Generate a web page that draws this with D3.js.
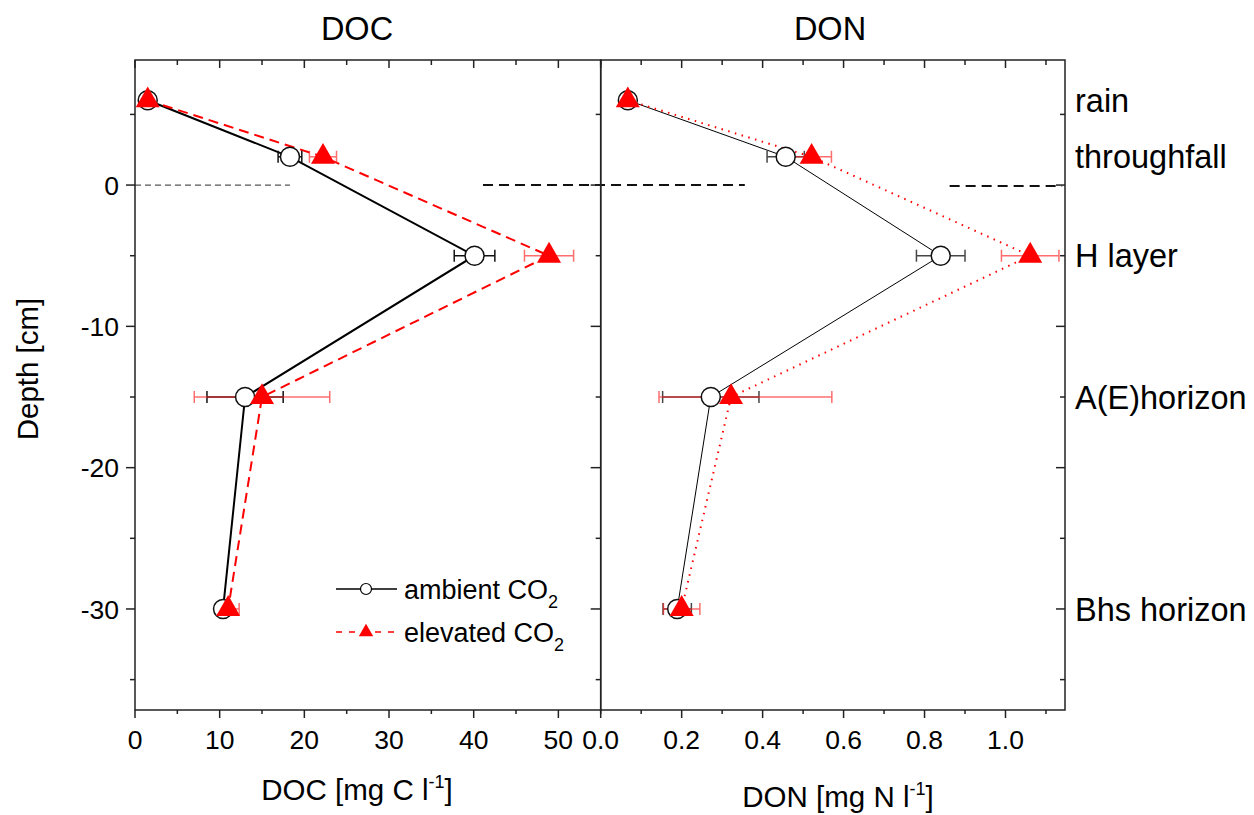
<!DOCTYPE html>
<html>
<head>
<meta charset="utf-8">
<script src="https://cdn.jsdelivr.net/npm/d3@7/dist/d3.min.js"></script>
<style>
  html, body { margin: 0; padding: 0; background: #fff; }
  svg { display: block; font-family: "Liberation Sans", Arial, Helvetica, sans-serif; }
</style>
</head>
<body>
<svg id="chart" width="1254" height="815"></svg>
<script>
// ---------------- DATA ----------------
const depths = [6, 2, -5, -15, -30];
const horizonLabels = ["rain", "throughfall", "H layer", "A(E)horizon", "Bhs horizon"];

const docAmbient = [1.5, 18.3, 40.1, 13.0, 10.4];
const docAmbientErr = [0.5, 1.4, 2.4, 4.5, 0.9];
const docElevated = [1.5, 22.2, 48.9, 15.0, 11.0];
const docElevatedErr = [0.5, 1.6, 2.9, 8.0, 1.3];

const donAmbient = [0.067, 0.457, 0.840, 0.272, 0.189];
const donAmbientErr = [0.01, 0.046, 0.06, 0.119, 0.035];
const donElevated = [0.067, 0.521, 1.061, 0.322, 0.200];
const donElevatedErrMinus = [0.01, 0.049, 0.071, 0.178, 0.045];
const donElevatedErrPlus = [0.01, 0.049, 0.071, 0.249, 0.045];

const docTicks = [0, 10, 20, 30, 40, 50];
const docMinorTicks = [5, 15, 25, 35, 45, 55];
const donTicks = [0.0, 0.2, 0.4, 0.6, 0.8, 1.0];
const donMinorTicks = [0.1, 0.3, 0.5, 0.7, 0.9, 1.1];
const depthTicks = [0, -10, -20, -30];
const depthMinorTicks = [5, -5, -15, -25, -35];

const docDomain = [0, 55];
const donDomain = [0, 1.147];
const depthDomain = [-37.15, 8.85];

// zero-depth boundary markers
const grayZeroLineDoc = [0, 18.3];            // DOC units
const blackZeroLineA = { fromDoc: 41.1, toDon: 0.356 };
const blackZeroLineB = { fromDon: 0.862, toDon: 1.14 };

const legendLabels = ["ambient CO", "elevated CO"];

// ---------------- LAYOUT ----------------
const svg = d3.select("#chart");
const plotTop = 60, plotBottom = 710;
const leftX0 = 135, midX = 600.7, rightX1 = 1065;

const y = d3.scaleLinear().domain(depthDomain).range([plotBottom, plotTop]);
const xDoc = d3.scaleLinear().domain(docDomain).range([leftX0, midX]);
const xDon = d3.scaleLinear().domain(donDomain).range([midX, rightX1]);

const axisColor = "#222";

// ---------------- ZERO LINES ----------------
svg.append("line")
  .attr("x1", xDoc(grayZeroLineDoc[0])).attr("x2", xDoc(grayZeroLineDoc[1]))
  .attr("y1", y(0)).attr("y2", y(0))
  .attr("stroke", "#555").attr("stroke-width", 1.2).attr("stroke-dasharray", "6,4");
svg.append("line")
  .attr("x1", xDoc(blackZeroLineA.fromDoc)).attr("x2", xDon(blackZeroLineA.toDon))
  .attr("y1", y(0)).attr("y2", y(0))
  .attr("stroke", "#111").attr("stroke-width", 2).attr("stroke-dasharray", "10,6");
svg.append("line")
  .attr("x1", xDon(blackZeroLineB.fromDon)).attr("x2", xDon(blackZeroLineB.toDon))
  .attr("y1", y(0) + 1).attr("y2", y(0) + 1)
  .attr("stroke", "#111").attr("stroke-width", 2).attr("stroke-dasharray", "10,6");

// ---------------- FRAMES & TICKS ----------------
function frame(x0, x1) {
  svg.append("rect").attr("x", x0).attr("y", plotTop).attr("width", x1 - x0).attr("height", plotBottom - plotTop)
    .attr("fill", "none").attr("stroke", axisColor).attr("stroke-width", 1.5);
}
frame(leftX0, midX);
frame(midX, rightX1);

function tickLine(x1, y1, x2, y2) {
  svg.append("line").attr("x1", x1).attr("y1", y1).attr("x2", x2).attr("y2", y2)
    .attr("stroke", axisColor).attr("stroke-width", 1.5);
}
// y ticks: left axis outward, middle line leftward, right border inward
depthTicks.forEach(d => {
  tickLine(leftX0 - 9, y(d), leftX0, y(d));
  tickLine(midX - 10, y(d), midX, y(d));
  tickLine(rightX1 - 9, y(d), rightX1, y(d));
});
depthMinorTicks.forEach(d => {
  tickLine(leftX0 - 5, y(d), leftX0, y(d));
  tickLine(midX - 5, y(d), midX, y(d));
  tickLine(rightX1 - 5, y(d), rightX1, y(d));
});
// x ticks: bottom outward, top inward
docTicks.forEach(v => { tickLine(xDoc(v), plotBottom, xDoc(v), plotBottom + 8); tickLine(xDoc(v), plotTop, xDoc(v), plotTop + 8); });
docMinorTicks.forEach(v => { tickLine(xDoc(v), plotBottom, xDoc(v), plotBottom + 4); tickLine(xDoc(v), plotTop, xDoc(v), plotTop + 5); });
donTicks.forEach(v => { tickLine(xDon(v), plotBottom, xDon(v), plotBottom + 8); tickLine(xDon(v), plotTop, xDon(v), plotTop + 8); });
donMinorTicks.forEach(v => { tickLine(xDon(v), plotBottom, xDon(v), plotBottom + 4); tickLine(xDon(v), plotTop, xDon(v), plotTop + 5); });

// tick labels
svg.selectAll(".ylab").data(depthTicks).enter().append("text")
  .attr("x", 119).attr("y", d => y(d)).attr("dy", "0.36em")
  .attr("text-anchor", "end").attr("font-size", 26.5).attr("fill", "#000")
  .text(d => String(d));
svg.selectAll(".xdoclab").data(docTicks).enter().append("text")
  .attr("x", d => xDoc(d)).attr("y", 749).attr("text-anchor", "middle")
  .attr("font-size", 26.5).attr("fill", "#000").text(d => d3.format("d")(d));
svg.selectAll(".xdonlab").data(donTicks).enter().append("text")
  .attr("x", d => xDon(d)).attr("y", 749).attr("text-anchor", "middle")
  .attr("font-size", 26.5).attr("fill", "#000").text(d => d3.format(".1f")(d));

// ---------------- TITLES ----------------
svg.append("text").attr("x", 357).attr("y", 40).attr("text-anchor", "middle").attr("font-size", 32.5).text("DOC");
svg.append("text").attr("x", 830).attr("y", 40).attr("text-anchor", "middle").attr("font-size", 32.5).text("DON");

svg.append("text").attr("transform", "translate(38,369) rotate(-90)").attr("text-anchor", "middle")
  .attr("font-size", 29.5).text("Depth [cm]");

function unitLabel(cx, by, main) {
  const t = svg.append("text").attr("x", cx).attr("y", by).attr("text-anchor", "middle").attr("font-size", 29.5);
  t.append("tspan").text(main);
  t.append("tspan").attr("dy", -12).attr("font-size", 18).text("-1");
  t.append("tspan").attr("dy", 12).text("]");
}
unitLabel(357, 800, "DOC [mg C l");
unitLabel(838, 807, "DON [mg N l");

// horizon labels
svg.selectAll(".hlab").data(depths).enter().append("text")
  .attr("x", 1075).attr("y", d => y(d)).attr("dy", "0.36em")
  .attr("font-size", 32.5).attr("fill", "#000")
  .text((d, i) => horizonLabels[i]);

// ---------------- SERIES ----------------
const tri = d3.symbol().type(d3.symbolTriangle).size(250);
const triSmall = d3.symbol().type(d3.symbolTriangle).size(90);

function drawSeries(xs, vals, errMinus, errPlus, style) {
  const pts = vals.map((v, i) => ({ x: v, d: depths[i], em: errMinus[i], ep: errPlus[i] }));
  const line = d3.line().x(p => xs(p.x)).y(p => y(p.d));
  svg.append("path").datum(pts).attr("d", line).attr("fill", "none")
    .attr("stroke", style.lineColor).attr("stroke-width", style.lineWidth)
    .attr("stroke-dasharray", style.dash || null).attr("stroke-linecap", style.cap || "butt");
  return pts;
}
function drawErrors(xs, pts, color, opacity) {
  const g = svg.append("g").attr("stroke", color).attr("stroke-width", 1.5).attr("opacity", opacity);
  pts.forEach(p => {
    const yy = y(p.d), a = xs(p.x - p.em), b = xs(p.x + p.ep);
    g.append("line").attr("x1", a).attr("x2", b).attr("y1", yy).attr("y2", yy);
    g.append("line").attr("x1", a).attr("x2", a).attr("y1", yy - 6).attr("y2", yy + 6);
    g.append("line").attr("x1", b).attr("x2", b).attr("y1", yy - 6).attr("y2", yy + 6);
  });
}
function drawCircles(xs, pts) {
  pts.forEach(p => {
    svg.append("circle").attr("cx", xs(p.x)).attr("cy", y(p.d)).attr("r", 9.5)
      .attr("fill", "#fff").attr("stroke", "#111").attr("stroke-width", 1.5);
  });
}
function drawTriangles(xs, pts) {
  pts.forEach(p => {
    svg.append("path").attr("d", tri).attr("transform", `translate(${xs(p.x)},${y(p.d)})`)
      .attr("fill", "#ff0000");
  });
}

// DOC panel
const docA = drawSeries(xDoc, docAmbient, docAmbientErr, docAmbientErr, { lineColor: "#000", lineWidth: 2 });
const docE = drawSeries(xDoc, docElevated, docElevatedErr, docElevatedErr, { lineColor: "#ff0000", lineWidth: 2, dash: "10,6" });
// DON panel
const donA = drawSeries(xDon, donAmbient, donAmbientErr, donAmbientErr, { lineColor: "#000", lineWidth: 1 });
const donE = drawSeries(xDon, donElevated, donElevatedErrMinus, donElevatedErrPlus, { lineColor: "#ff0000", lineWidth: 2, dash: "1.5,5.5" });

drawErrors(xDoc, docA, "#111", 1);
drawErrors(xDon, donA, "#333", 0.9);
drawErrors(xDoc, docE, "#ff2020", 0.65);
drawErrors(xDon, donE, "#ff2020", 0.65);

drawCircles(xDoc, docA);
drawCircles(xDon, donA);
drawTriangles(xDoc, docE);
drawTriangles(xDon, donE);

// ---------------- LEGEND ----------------
const lg = svg.append("g");
lg.append("line").attr("x1", 336).attr("x2", 397).attr("y1", 589).attr("y2", 589).attr("stroke", "#000").attr("stroke-width", 1.5);
lg.append("circle").attr("cx", 366).attr("cy", 589).attr("r", 5.5).attr("fill", "#fff").attr("stroke", "#000").attr("stroke-width", 1.2);
lg.append("line").attr("x1", 336).attr("x2", 397).attr("y1", 632).attr("y2", 632).attr("stroke", "#ff0000").attr("stroke-width", 1.5).attr("stroke-dasharray", "6,7");
lg.append("path").attr("d", triSmall).attr("transform", "translate(366,632)").attr("fill", "#ff0000");
[589, 632].forEach((yy, i) => {
  const t = lg.append("text").attr("x", 404).attr("y", yy).attr("dy", "0.36em").attr("font-size", 27);
  t.append("tspan").text(legendLabels[i]);
  t.append("tspan").attr("dy", 9).attr("font-size", 18).text("2");
});
</script>
</body>
</html>
